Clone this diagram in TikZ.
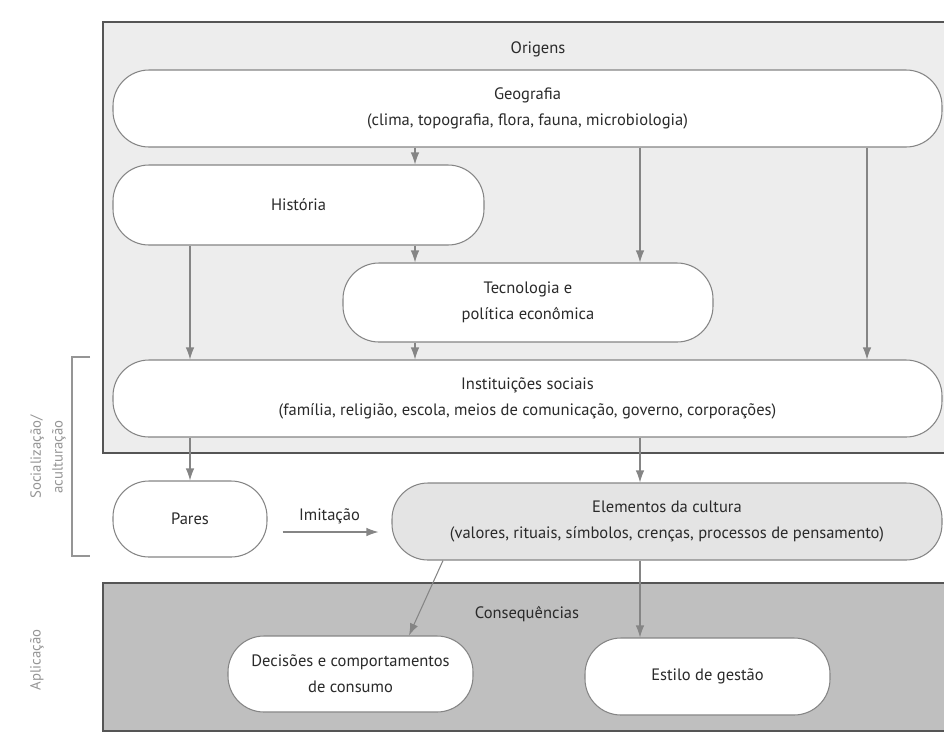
\documentclass[tikz,border=0pt]{standalone}
\usepackage{fontspec}
\setmainfont{PT Sans}
\usetikzlibrary{arrows.meta}

\definecolor{linegray}{HTML}{858585}
\definecolor{textgray}{HTML}{2A2A2A}
\definecolor{panellight}{HTML}{EDEDED}
\definecolor{paneldark}{HTML}{BFBFBF}
\definecolor{pillgray}{HTML}{E4E4E4}
\definecolor{sidegray}{HTML}{959595}

\begin{document}
\begin{tikzpicture}[
    % Define pill style (box with round ends)
    pill/.style={draw=linegray, fill=white, rounded corners=0.72cm, line width=0.6pt,
                 align=center, text=textgray, inner sep=2pt},
    % Define arrow style
    arr/.style={draw=linegray, line width=0.6pt, -{Latex[length=2.4mm, width=1.7mm]}},
    % Define panel styles
    panel/.style={draw=textgray!80, line width=0.7pt},
    sidelabel/.style={text=sidegray, rotate=90, align=center, font=\fontsize{8.4}{12.5}\selectfont},
    every node/.style={font=\fontsize{9.4}{14.6}\selectfont}
]

% Page size
\useasboundingbox (0,0) rectangle (18.88,-15.06);

% Common right edge of the panels (cut by the page)
\def\xright{19.2}

% Panel 1: Origens, panel 2: Consequências
\begin{scope}
    \clip (0,0) rectangle (18.88,-15.06);
    \fill[panellight, panel] (2.06,-0.44) rectangle (\xright,-9.06);
    \fill[paneldark, panel] (2.06,-11.66) rectangle (\xright,-14.62);
\end{scope}
\node[text=textgray] (origens) at (10.76,-0.98) {Origens};
\node[text=textgray] (conseq) at (10.54,-12.28) {Consequências};

% Boxes of the top panel
\node[pill, minimum width=16.58cm, minimum height=1.54cm] (geo) at (10.55,-2.17)
    {Geografia\\(clima, topografia, flora, fauna, microbiologia)};
\node[pill, minimum width=7.42cm, minimum height=1.6cm] (hist) at (5.97,-4.10) {História};
\node[pill, minimum width=7.4cm, minimum height=1.58cm] (tec) at (10.56,-6.05)
    {Tecnologia e\\política econômica};
\node[pill, minimum width=16.58cm, minimum height=1.54cm] (inst) at (10.55,-7.97)
    {Instituições sociais\\(família, religião, escola, meios de comunicação, governo, corporações)};

% Boxes of the middle row
\node[pill, minimum width=3.08cm, minimum height=1.52cm] (pares) at (3.8,-10.38) {Pares};
\node[pill, fill=pillgray, minimum width=11cm, minimum height=1.54cm] (elem) at (13.34,-10.43)
    {Elementos da cultura\\(valores, rituais, símbolos, crenças, processos de pensamento)};

% Boxes of the bottom panel
\node[pill, minimum width=4.9cm, minimum height=1.52cm] (dec) at (7.01,-13.48)
    {Decisões e comportamentos\\de consumo};
\node[pill, minimum width=4.9cm, minimum height=1.54cm] (est) at (14.15,-13.53) {Estilo de gestão};

% Arrows
\draw[arr] (8.3,0 |- geo.south) -- (8.3,0 |- hist.north);
\draw[arr] (8.3,0 |- hist.south) -- (8.3,0 |- tec.north);
\draw[arr] (8.3,0 |- tec.south) -- (8.3,0 |- inst.north);
\draw[arr] (12.8,0 |- geo.south) -- (12.8,0 |- tec.north);
\draw[arr] (17.34,0 |- geo.south) -- (17.34,0 |- inst.north);
\draw[arr] (3.8,0 |- hist.south) -- (3.8,0 |- inst.north);
\draw[arr] (3.8,0 |- inst.south) -- (pares.north);
\draw[arr] (12.8,0 |- inst.south) -- (12.8,0 |- elem.north);
\draw[arr] (12.8,0 |- elem.south) -- (12.8,0 |- est.north);
\draw[arr] (8.86,0 |- elem.south) -- (8.18,0 |- dec.north);
\draw[arr, shorten <=0.3cm, shorten >=0.26cm] ([yshift=-0.26cm]pares.east) -- ([yshift=-0.21cm]elem.west)
    node[midway, above, text=textgray, yshift=1pt] (imit) {Imitação};

% Side labels
\node[sidelabel] (social) at (0.96,-9.14) {Socialização/\\aculturação};
\node[sidelabel] (aplic) at (0.74,-13.2) {Aplicação};
\draw[sidegray, line width=0.6pt] (1.8,-7.14) -- (1.44,-7.14) -- (1.44,-11.12) -- (1.8,-11.12);

\end{tikzpicture}
\end{document}
